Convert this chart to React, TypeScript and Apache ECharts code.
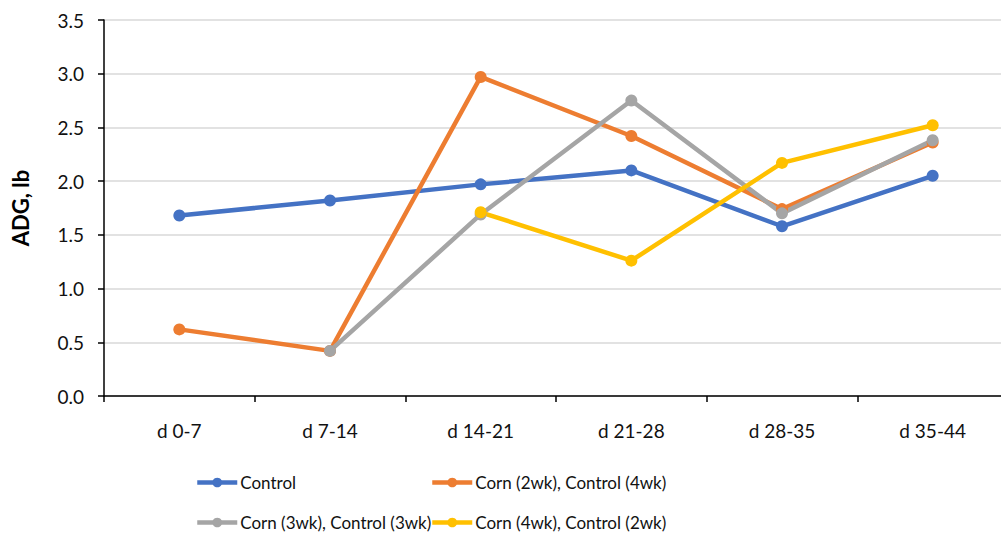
import React, { useEffect, useRef } from "react";
import * as echarts from "echarts";

const categories = ["d 0-7", "d 7-14", "d 14-21", "d 21-28", "d 28-35", "d 35-44"];
const seriesNames = [
  "Control",
  "Corn (2wk), Control (4wk)",
  "Corn (3wk), Control (3wk)",
  "Corn (4wk), Control (2wk)",
];
const control = [1.68, 1.82, 1.97, 2.1, 1.58, 2.05];
const corn2 = [0.62, 0.42, 2.97, 2.42, 1.74, 2.36];
const corn3 = [null, 0.42, 1.69, 2.75, 1.7, 2.38];
const corn4 = [null, null, 1.71, 1.26, 2.17, 2.52];
const yTicks = [0, 0.5, 1.0, 1.5, 2.0, 2.5, 3.0, 3.5];

const colors = ["#4472C4", "#ED7D31", "#A5A5A5", "#FFC000"];
const font = "Lato, 'Open Sans', sans-serif";

export default function App() {
  const ref = useRef<HTMLDivElement>(null);
  useEffect(() => {
    if (!ref.current) return;
    const chart = echarts.init(ref.current, null, { renderer: "svg" });
    const data = [control, corn2, corn3, corn4];
    const legendPos = [
      { left: 195, top: 474 },
      { left: 430, top: 474 },
      { left: 195, top: 514 },
      { left: 430, top: 514 },
    ];
    chart.setOption({
      animation: false,
      textStyle: { fontFamily: font },
      grid: { left: 104, top: 20, height: 376, width: 904, containLabel: false },
      legend: seriesNames.map((n, i) => ({
        data: [n],
        left: legendPos[i].left,
        top: legendPos[i].top,
        itemWidth: 40,
        itemHeight: 12,
        itemGap: 0,
        padding: 0,
        lineStyle: { width: 4.5 },
        textStyle: { fontFamily: font, fontSize: 17, color: "#111", padding: [0, 0, 0, -2] },
      })),
      xAxis: {
        type: "category",
        data: categories,
        boundaryGap: true,
        axisLine: { lineStyle: { color: "#000", width: 1.5 } },
        axisTick: { show: true, length: 6, lineStyle: { color: "#000", width: 1.5 } },
        axisLabel: { fontSize: 19, color: "#111", margin: 25, fontFamily: font },
      },
      yAxis: {
        type: "value",
        min: 0,
        max: 3.5,
        interval: 0.5,
        name: "ADG, lb",
        nameLocation: "middle",
        nameGap: 73,
        nameTextStyle: { fontSize: 22, fontWeight: "bold", color: "#000", fontFamily: font },
        axisLine: { show: true, lineStyle: { color: "#000", width: 1.5 } },
        axisTick: { show: true, length: 6, lineStyle: { color: "#000", width: 1.5 } },
        axisLabel: {
          fontSize: 19,
          color: "#111",
          margin: 20,
          fontFamily: font,
          formatter: (v: number) => (yTicks.includes(v) ? v.toFixed(1) : ""),
        },
        splitLine: { show: true, lineStyle: { color: "#D9D9D9", width: 1.5 } },
      },
      series: seriesNames.map((n, i) => ({
        name: n,
        type: "line",
        data: data[i],
        color: colors[i],
        lineStyle: { width: 4.5, color: colors[i] },
        itemStyle: { color: colors[i] },
        symbol: "circle",
        symbolSize: 12,
        connectNulls: false,
      })),
    });
    return () => chart.dispose();
  }, []);
  return (
    <div style={{ position: "absolute", left: 0, top: 0, width: 1001, height: 539, overflow: "hidden" }}>
      <div ref={ref} style={{ width: 1012, height: 539 }} />
    </div>
  );
}
